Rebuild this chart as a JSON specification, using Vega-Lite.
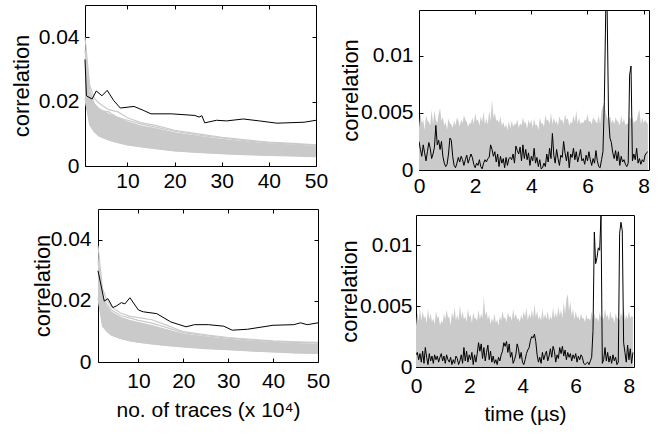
{
"$schema":"https://vega.github.io/schema/vega-lite/v6.json",
"padding":{"left":8,"top":4,"right":5,"bottom":5},
"config":{"view":{"stroke":null},
"axis":{"labelFont":"Liberation Sans","titleFont":"Liberation Sans","labelFontSize":21,"titleFontSize":22,"titleFontWeight":"normal","labelColor":"#000","titleColor":"#000","tickColor":"#000","tickWidth":1,"tickSize":-4,"grid":false,"domain":false,"labelFlush":false,"labelOverlap":false,"labelBound":false}},
"datasets":{
"tlBand":[{"n":1,"lo":0.020,"hi":0.038},{"n":2,"lo":0.0125,"hi":0.023},{"n":3,"lo":0.0104,"hi":0.0196},{"n":4,"lo":0.0091,"hi":0.018},{"n":6,"lo":0.0079,"hi":0.0163},{"n":8,"lo":0.0071,"hi":0.0152},{"n":10,"lo":0.0064,"hi":0.0139},{"n":13,"lo":0.0058,"hi":0.0126},{"n":16,"lo":0.0053,"hi":0.0118},{"n":20,"lo":0.0046,"hi":0.0105},{"n":25,"lo":0.0041,"hi":0.0094},{"n":30,"lo":0.0037,"hi":0.0085},{"n":35,"lo":0.0034,"hi":0.0077},{"n":40,"lo":0.0032,"hi":0.0071},{"n":45,"lo":0.0030,"hi":0.0067},{"n":50,"lo":0.0028,"hi":0.0063}],
"tlLines":[
{"id":"a","n":1,"v":0.040},{"id":"a","n":2,"v":0.025},{"id":"a","n":3,"v":0.021},{"id":"a","n":4,"v":0.0195},{"id":"a","n":6,"v":0.0175},{"id":"a","n":8,"v":0.0168},{"id":"a","n":10,"v":0.0150},{"id":"a","n":13,"v":0.0134},{"id":"a","n":16,"v":0.0126},{"id":"a","n":20,"v":0.0111},{"id":"a","n":25,"v":0.0100},{"id":"a","n":30,"v":0.0089},{"id":"a","n":35,"v":0.0081},{"id":"a","n":40,"v":0.0074},{"id":"a","n":45,"v":0.0070},{"id":"a","n":50,"v":0.0066},
{"id":"b","n":1,"v":0.036},{"id":"b","n":2,"v":0.0235},{"id":"b","n":3,"v":0.0192},{"id":"b","n":4,"v":0.0172},{"id":"b","n":6,"v":0.0168},{"id":"b","n":8,"v":0.0150},{"id":"b","n":10,"v":0.0142},{"id":"b","n":13,"v":0.0130},{"id":"b","n":16,"v":0.0121},{"id":"b","n":20,"v":0.0108},{"id":"b","n":25,"v":0.0096},{"id":"b","n":30,"v":0.0087},{"id":"b","n":35,"v":0.0079},{"id":"b","n":40,"v":0.0072},{"id":"b","n":45,"v":0.0068},{"id":"b","n":50,"v":0.0064},
{"id":"e","n":1,"v":0.021},{"id":"e","n":2,"v":0.0128},{"id":"e","n":3,"v":0.0106},{"id":"e","n":4,"v":0.0093},{"id":"e","n":6,"v":0.0081},{"id":"e","n":8,"v":0.0073},{"id":"e","n":10,"v":0.0066},{"id":"e","n":13,"v":0.0059},{"id":"e","n":16,"v":0.0054},{"id":"e","n":20,"v":0.0047},{"id":"e","n":25,"v":0.0042},{"id":"e","n":30,"v":0.0038},{"id":"e","n":35,"v":0.0035},{"id":"e","n":40,"v":0.0033},{"id":"e","n":45,"v":0.0031},{"id":"e","n":50,"v":0.0029}],
"tlKey":[{"n":1,"v":0.0331},{"n":1.3,"v":0.0218},{"n":2.5,"v":0.0208},{"n":3.4,"v":0.0233},{"n":4.6,"v":0.0218},{"n":5.7,"v":0.0235},{"n":7.1,"v":0.0203},{"n":8.5,"v":0.018},{"n":11.4,"v":0.0185},{"n":13.5,"v":0.0172},{"n":15,"v":0.0162},{"n":19.3,"v":0.0162},{"n":24.3,"v":0.0157},{"n":25.2,"v":0.0152},{"n":25.8,"v":0.0156},{"n":26.4,"v":0.0134},{"n":28.9,"v":0.0142},{"n":31,"v":0.014},{"n":34.6,"v":0.0146},{"n":38,"v":0.014},{"n":41.7,"v":0.0133},{"n":47.5,"v":0.0136},{"n":50,"v":0.0142}],
"blBand":[{"n":1,"lo":0.020,"hi":0.036},{"n":2,"lo":0.0115,"hi":0.022},{"n":3,"lo":0.0098,"hi":0.0185},{"n":4,"lo":0.0086,"hi":0.0165},{"n":6,"lo":0.0075,"hi":0.0148},{"n":8,"lo":0.0068,"hi":0.0138},{"n":10,"lo":0.0063,"hi":0.0131},{"n":13,"lo":0.0058,"hi":0.0121},{"n":16,"lo":0.0053,"hi":0.0109},{"n":20,"lo":0.0048,"hi":0.0093},{"n":25,"lo":0.0043,"hi":0.0084},{"n":30,"lo":0.0039,"hi":0.0076},{"n":35,"lo":0.0035,"hi":0.0070},{"n":40,"lo":0.0032,"hi":0.0066},{"n":45,"lo":0.0029,"hi":0.0062},{"n":50,"lo":0.0027,"hi":0.0060}],
"blLines":[
{"id":"a","n":1,"v":0.038},{"id":"a","n":2,"v":0.024},{"id":"a","n":3,"v":0.020},{"id":"a","n":4,"v":0.018},{"id":"a","n":6,"v":0.0160},{"id":"a","n":8,"v":0.0150},{"id":"a","n":10,"v":0.0145},{"id":"a","n":13,"v":0.0138},{"id":"a","n":16,"v":0.0122},{"id":"a","n":20,"v":0.0099},{"id":"a","n":25,"v":0.0089},{"id":"a","n":30,"v":0.0080},{"id":"a","n":35,"v":0.0074},{"id":"a","n":40,"v":0.0069},{"id":"a","n":45,"v":0.0066},{"id":"a","n":50,"v":0.0064},
{"id":"b","n":1,"v":0.033},{"id":"b","n":2,"v":0.021},{"id":"b","n":3,"v":0.0188},{"id":"b","n":4,"v":0.0170},{"id":"b","n":6,"v":0.0152},{"id":"b","n":8,"v":0.0144},{"id":"b","n":10,"v":0.0136},{"id":"b","n":13,"v":0.0127},{"id":"b","n":16,"v":0.0114},{"id":"b","n":20,"v":0.0096},{"id":"b","n":25,"v":0.0086},{"id":"b","n":30,"v":0.0078},{"id":"b","n":35,"v":0.0072},{"id":"b","n":40,"v":0.0067},{"id":"b","n":45,"v":0.0064},{"id":"b","n":50,"v":0.0062},
{"id":"e","n":1,"v":0.021},{"id":"e","n":2,"v":0.0118},{"id":"e","n":3,"v":0.0100},{"id":"e","n":4,"v":0.0088},{"id":"e","n":6,"v":0.0077},{"id":"e","n":8,"v":0.0070},{"id":"e","n":10,"v":0.0065},{"id":"e","n":13,"v":0.0059},{"id":"e","n":16,"v":0.0054},{"id":"e","n":20,"v":0.0049},{"id":"e","n":25,"v":0.0044},{"id":"e","n":30,"v":0.0040},{"id":"e","n":35,"v":0.0036},{"id":"e","n":40,"v":0.0033},{"id":"e","n":45,"v":0.0030},{"id":"e","n":50,"v":0.0028}],
"blKey":[{"n":1,"v":0.0298},{"n":2.4,"v":0.0199},{"n":3.2,"v":0.0207},{"n":4.3,"v":0.0178},{"n":5.2,"v":0.0184},{"n":6.2,"v":0.0194},{"n":7,"v":0.019},{"n":8.1,"v":0.021},{"n":10,"v":0.017},{"n":11.1,"v":0.0164},{"n":14.1,"v":0.0158},{"n":17.2,"v":0.0131},{"n":20.6,"v":0.0115},{"n":22.5,"v":0.0122},{"n":25.6,"v":0.0122},{"n":29,"v":0.0117},{"n":30.9,"v":0.0104},{"n":34.3,"v":0.0107},{"n":40,"v":0.012},{"n":44.6,"v":0.0122},{"n":46.1,"v":0.0128},{"n":47.6,"v":0.0122},{"n":50,"v":0.0128}],
"tr":[
{"t":0,"g":0.0037,"k":0.0025},{"t":0.05,"g":0.0050,"k":0.0018},{"t":0.1,"g":0.0041,"k":0.0012},{"t":0.15,"g":0.0044,"k":0.0022},{"t":0.2,"g":0.0035,"k":0.0015},{"t":0.25,"g":0.0048,"k":0.0008},{"t":0.3,"g":0.0043,"k":0.0016},{"t":0.35,"g":0.0042,"k":0.0024},{"t":0.4,"g":0.0039,"k":0.0019},{"t":0.45,"g":0.0053,"k":0.0010},
{"t":0.5,"g":0.0040,"k":0.0014},{"t":0.55,"g":0.0052,"k":0.0020},{"t":0.6,"g":0.0044,"k":0.0039},{"t":0.65,"g":0.0041,"k":0.0022},{"t":0.7,"g":0.0049,"k":0.0026},{"t":0.75,"g":0.0054,"k":0.0018},{"t":0.8,"g":0.0043,"k":0.0025},{"t":0.85,"g":0.0046,"k":0.0012},{"t":0.9,"g":0.0039,"k":0.0006},{"t":0.95,"g":0.0042,"k":0.0003},
{"t":1.0,"g":0.0035,"k":0.0005},{"t":1.05,"g":0.0045,"k":0.0014},{"t":1.1,"g":0.0041,"k":0.0028},{"t":1.15,"g":0.0040,"k":0.0026},{"t":1.2,"g":0.0037,"k":0.0012},{"t":1.25,"g":0.0043,"k":0.0004},{"t":1.3,"g":0.0039,"k":0.0002},{"t":1.35,"g":0.0046,"k":0.0006},{"t":1.4,"g":0.0043,"k":0.0011},{"t":1.45,"g":0.0038,"k":0.0007},
{"t":1.5,"g":0.0044,"k":0.0012},{"t":1.55,"g":0.0041,"k":0.0009},{"t":1.6,"g":0.0048,"k":0.0004},{"t":1.65,"g":0.0044,"k":0.0009},{"t":1.7,"g":0.0042,"k":0.0013},{"t":1.75,"g":0.0038,"k":0.0006},{"t":1.8,"g":0.0041,"k":0.0010},{"t":1.85,"g":0.0041,"k":0.0014},{"t":1.9,"g":0.0046,"k":0.0011},{"t":1.95,"g":0.0040,"k":0.0005},
{"t":2.0,"g":0.0050,"k":0.0002},{"t":2.05,"g":0.0043,"k":0.0006},{"t":2.1,"g":0.0044,"k":0.0004},{"t":2.15,"g":0.0039,"k":0.0009},{"t":2.2,"g":0.0047,"k":0.0003},{"t":2.25,"g":0.0042,"k":0.0001},{"t":2.3,"g":0.0051,"k":0.0006},{"t":2.35,"g":0.0040,"k":0.0009},{"t":2.4,"g":0.0045,"k":0.0007},{"t":2.45,"g":0.0040,"k":0.0010},
{"t":2.5,"g":0.0052,"k":0.0011},{"t":2.55,"g":0.0043,"k":0.0022},{"t":2.6,"g":0.0062,"k":0.0018},{"t":2.65,"g":0.0046,"k":0.0012},{"t":2.7,"g":0.0050,"k":0.0016},{"t":2.75,"g":0.0043,"k":0.0007},{"t":2.8,"g":0.0044,"k":0.0014},{"t":2.85,"g":0.0041,"k":0.0003},{"t":2.9,"g":0.0047,"k":0.0012},{"t":2.95,"g":0.0039,"k":0.0006},
{"t":3.0,"g":0.0042,"k":0.0010},{"t":3.05,"g":0.0037,"k":0.0002},{"t":3.1,"g":0.0040,"k":0.0011},{"t":3.15,"g":0.0035,"k":0.0004},{"t":3.2,"g":0.0043,"k":0.0010},{"t":3.25,"g":0.0036,"k":0.0011},{"t":3.3,"g":0.0043,"k":0.0009},{"t":3.35,"g":0.0038,"k":0.0014},{"t":3.4,"g":0.0040,"k":0.0006},{"t":3.45,"g":0.0040,"k":0.0021},
{"t":3.5,"g":0.0044,"k":0.0017},{"t":3.55,"g":0.0037,"k":0.0014},{"t":3.6,"g":0.0041,"k":0.0020},{"t":3.65,"g":0.0039,"k":0.0008},{"t":3.7,"g":0.0046,"k":0.0022},{"t":3.75,"g":0.0041,"k":0.0010},{"t":3.8,"g":0.0042,"k":0.0018},{"t":3.85,"g":0.0036,"k":0.0009},{"t":3.9,"g":0.0044,"k":0.0015},{"t":3.95,"g":0.0040,"k":0.0004},
{"t":4.0,"g":0.0044,"k":0.0012},{"t":4.05,"g":0.0037,"k":0.0008},{"t":4.1,"g":0.0045,"k":0.0019},{"t":4.15,"g":0.0039,"k":0.0006},{"t":4.2,"g":0.0040,"k":0.0011},{"t":4.25,"g":0.0035,"k":0.0003},{"t":4.3,"g":0.0046,"k":0.0009},{"t":4.35,"g":0.0041,"k":0.0001},{"t":4.4,"g":0.0041,"k":0.0002},{"t":4.45,"g":0.0038,"k":0.0006},
{"t":4.5,"g":0.0048,"k":0.0003},{"t":4.55,"g":0.0043,"k":0.0014},{"t":4.6,"g":0.0044,"k":0.0007},{"t":4.65,"g":0.0040,"k":0.0019},{"t":4.7,"g":0.0050,"k":0.0010},{"t":4.75,"g":0.0040,"k":0.0032},{"t":4.8,"g":0.0046,"k":0.0013},{"t":4.85,"g":0.0041,"k":0.0006},{"t":4.9,"g":0.0043,"k":0.0018},{"t":4.95,"g":0.0039,"k":0.0010},
{"t":5.0,"g":0.0047,"k":0.0004},{"t":5.05,"g":0.0043,"k":0.0013},{"t":5.1,"g":0.0044,"k":0.0011},{"t":5.15,"g":0.0040,"k":0.0025},{"t":5.2,"g":0.0049,"k":0.0015},{"t":5.25,"g":0.0044,"k":0.0008},{"t":5.3,"g":0.0045,"k":0.0016},{"t":5.35,"g":0.0039,"k":0.0002},{"t":5.4,"g":0.0042,"k":0.0014},{"t":5.45,"g":0.0041,"k":0.0011},
{"t":5.5,"g":0.0048,"k":0.0019},{"t":5.55,"g":0.0042,"k":0.0009},{"t":5.6,"g":0.0052,"k":0.0016},{"t":5.65,"g":0.0040,"k":0.0007},{"t":5.7,"g":0.0046,"k":0.0012},{"t":5.75,"g":0.0040,"k":0.0018},{"t":5.8,"g":0.0042,"k":0.0008},{"t":5.85,"g":0.0041,"k":0.0010},{"t":5.9,"g":0.0044,"k":0.0005},{"t":5.95,"g":0.0043,"k":0.0013},
{"t":6.0,"g":0.0049,"k":0.0008},{"t":6.05,"g":0.0042,"k":0.0016},{"t":6.1,"g":0.0043,"k":0.0009},{"t":6.15,"g":0.0040,"k":0.0004},{"t":6.2,"g":0.0046,"k":0.0010},{"t":6.25,"g":0.0044,"k":0.0006},{"t":6.3,"g":0.0042,"k":0.0017},{"t":6.35,"g":0.0041,"k":0.0008},{"t":6.4,"g":0.0048,"k":0.0003},{"t":6.45,"g":0.0040,"k":0.0002},
{"t":6.5,"g":0.0052,"k":0.0009},{"t":6.55,"g":0.0056,"k":0.0016},{"t":6.6,"g":0.0058,"k":0.0060},{"t":6.65,"g":0.0050,"k":0.0140},{"t":6.7,"g":0.0046,"k":0.0140},{"t":6.75,"g":0.0042,"k":0.0047},{"t":6.8,"g":0.0048,"k":0.0028},{"t":6.85,"g":0.0041,"k":0.0024},{"t":6.9,"g":0.0044,"k":0.0015},{"t":6.95,"g":0.0040,"k":0.0010},
{"t":7.0,"g":0.0046,"k":0.0017},{"t":7.05,"g":0.0043,"k":0.0008},{"t":7.1,"g":0.0042,"k":0.0016},{"t":7.15,"g":0.0039,"k":0.0004},{"t":7.2,"g":0.0048,"k":0.0012},{"t":7.25,"g":0.0041,"k":0.0007},{"t":7.3,"g":0.0045,"k":0.0009},{"t":7.35,"g":0.0039,"k":0.0005},{"t":7.4,"g":0.0041,"k":0.0003},{"t":7.45,"g":0.0040,"k":0.0006},
{"t":7.5,"g":0.0047,"k":0.0083},{"t":7.55,"g":0.0044,"k":0.0091},{"t":7.6,"g":0.0046,"k":0.0008},{"t":7.65,"g":0.0041,"k":0.0014},{"t":7.7,"g":0.0043,"k":0.0009},{"t":7.75,"g":0.0043,"k":0.0019},{"t":7.8,"g":0.0049,"k":0.0006},{"t":7.85,"g":0.0053,"k":0.0010},{"t":7.9,"g":0.0040,"k":0.0005},{"t":7.95,"g":0.0046,"k":0.0009},
{"t":8.0,"g":0.0041,"k":0.0007},{"t":8.05,"g":0.0044,"k":0.0013},{"t":8.1,"g":0.0042,"k":0.0015},{"t":8.15,"g":0.0040,"k":0.0016}],
"br":[
{"t":0,"g":0.0034,"k":0.0010},{"t":0.05,"g":0.0045,"k":0.0012},{"t":0.1,"g":0.0038,"k":0.0006},{"t":0.15,"g":0.0049,"k":0.0011},{"t":0.2,"g":0.0038,"k":0.0004},{"t":0.25,"g":0.0046,"k":0.0013},{"t":0.3,"g":0.0040,"k":0.0003},{"t":0.35,"g":0.0042,"k":0.0016},{"t":0.4,"g":0.0036,"k":0.0008},{"t":0.45,"g":0.0048,"k":0.0002},
{"t":0.5,"g":0.0039,"k":0.0011},{"t":0.55,"g":0.0044,"k":0.0005},{"t":0.6,"g":0.0037,"k":0.0009},{"t":0.65,"g":0.0040,"k":0.0003},{"t":0.7,"g":0.0035,"k":0.0010},{"t":0.75,"g":0.0046,"k":0.0006},{"t":0.8,"g":0.0040,"k":0.0009},{"t":0.85,"g":0.0042,"k":0.0004},{"t":0.9,"g":0.0034,"k":0.0008},{"t":0.95,"g":0.0038,"k":0.0011},
{"t":1.0,"g":0.0036,"k":0.0005},{"t":1.05,"g":0.0044,"k":0.0009},{"t":1.1,"g":0.0039,"k":0.0003},{"t":1.15,"g":0.0047,"k":0.0010},{"t":1.2,"g":0.0041,"k":0.0006},{"t":1.25,"g":0.0041,"k":0.0004},{"t":1.3,"g":0.0034,"k":0.0008},{"t":1.35,"g":0.0045,"k":0.0002},{"t":1.4,"g":0.0040,"k":0.0006},{"t":1.45,"g":0.0049,"k":0.0003},
{"t":1.5,"g":0.0038,"k":0.0009},{"t":1.55,"g":0.0043,"k":0.0007},{"t":1.6,"g":0.0038,"k":0.0002},{"t":1.65,"g":0.0051,"k":0.0005},{"t":1.7,"g":0.0040,"k":0.0010},{"t":1.75,"g":0.0046,"k":0.0003},{"t":1.8,"g":0.0039,"k":0.0016},{"t":1.85,"g":0.0042,"k":0.0005},{"t":1.9,"g":0.0037,"k":0.0013},{"t":1.95,"g":0.0048,"k":0.0004},
{"t":2.0,"g":0.0041,"k":0.0010},{"t":2.05,"g":0.0043,"k":0.0006},{"t":2.1,"g":0.0036,"k":0.0012},{"t":2.15,"g":0.0045,"k":0.0002},{"t":2.2,"g":0.0040,"k":0.0010},{"t":2.25,"g":0.0040,"k":0.0004},{"t":2.3,"g":0.0038,"k":0.0011},{"t":2.35,"g":0.0047,"k":0.0020},{"t":2.4,"g":0.0039,"k":0.0013},{"t":2.45,"g":0.0044,"k":0.0019},
{"t":2.5,"g":0.0040,"k":0.0007},{"t":2.55,"g":0.0058,"k":0.0016},{"t":2.6,"g":0.0042,"k":0.0005},{"t":2.65,"g":0.0046,"k":0.0012},{"t":2.7,"g":0.0039,"k":0.0018},{"t":2.75,"g":0.0043,"k":0.0006},{"t":2.8,"g":0.0035,"k":0.0013},{"t":2.85,"g":0.0040,"k":0.0004},{"t":2.9,"g":0.0037,"k":0.0009},{"t":2.95,"g":0.0044,"k":0.0003},
{"t":3.0,"g":0.0036,"k":0.0006},{"t":3.05,"g":0.0039,"k":0.0002},{"t":3.1,"g":0.0034,"k":0.0008},{"t":3.15,"g":0.0042,"k":0.0005},{"t":3.2,"g":0.0038,"k":0.0010},{"t":3.25,"g":0.0046,"k":0.0013},{"t":3.3,"g":0.0040,"k":0.0020},{"t":3.35,"g":0.0041,"k":0.0017},{"t":3.4,"g":0.0037,"k":0.0021},{"t":3.45,"g":0.0045,"k":0.0012},
{"t":3.5,"g":0.0041,"k":0.0019},{"t":3.55,"g":0.0042,"k":0.0008},{"t":3.6,"g":0.0038,"k":0.0012},{"t":3.65,"g":0.0048,"k":0.0003},{"t":3.7,"g":0.0040,"k":0.0006},{"t":3.75,"g":0.0044,"k":0.0010},{"t":3.8,"g":0.0039,"k":0.0019},{"t":3.85,"g":0.0040,"k":0.0015},{"t":3.9,"g":0.0037,"k":0.0007},{"t":3.95,"g":0.0043,"k":0.0012},
{"t":4.0,"g":0.0039,"k":0.0004},{"t":4.05,"g":0.0046,"k":0.0002},{"t":4.1,"g":0.0041,"k":0.0006},{"t":4.15,"g":0.0049,"k":0.0011},{"t":4.2,"g":0.0038,"k":0.0014},{"t":4.25,"g":0.0044,"k":0.0016},{"t":4.3,"g":0.0040,"k":0.0022},{"t":4.35,"g":0.0047,"k":0.0025},{"t":4.4,"g":0.0040,"k":0.0024},{"t":4.45,"g":0.0052,"k":0.0027},
{"t":4.5,"g":0.0041,"k":0.0021},{"t":4.55,"g":0.0046,"k":0.0010},{"t":4.6,"g":0.0039,"k":0.0004},{"t":4.65,"g":0.0042,"k":0.0008},{"t":4.7,"g":0.0038,"k":0.0003},{"t":4.75,"g":0.0048,"k":0.0012},{"t":4.8,"g":0.0039,"k":0.0006},{"t":4.85,"g":0.0044,"k":0.0010},{"t":4.9,"g":0.0039,"k":0.0013},{"t":4.95,"g":0.0046,"k":0.0005},
{"t":5.0,"g":0.0038,"k":0.0009},{"t":5.05,"g":0.0042,"k":0.0015},{"t":5.1,"g":0.0039,"k":0.0008},{"t":5.15,"g":0.0049,"k":0.0017},{"t":5.2,"g":0.0040,"k":0.0013},{"t":5.25,"g":0.0045,"k":0.0004},{"t":5.3,"g":0.0040,"k":0.0010},{"t":5.35,"g":0.0050,"k":0.0007},{"t":5.4,"g":0.0042,"k":0.0016},{"t":5.45,"g":0.0047,"k":0.0011},
{"t":5.5,"g":0.0040,"k":0.0017},{"t":5.55,"g":0.0053,"k":0.0009},{"t":5.6,"g":0.0044,"k":0.0014},{"t":5.65,"g":0.0056,"k":0.0006},{"t":5.7,"g":0.0060,"k":0.0012},{"t":5.75,"g":0.0046,"k":0.0008},{"t":5.8,"g":0.0054,"k":0.0011},{"t":5.85,"g":0.0042,"k":0.0005},{"t":5.9,"g":0.0048,"k":0.0010},{"t":5.95,"g":0.0039,"k":0.0007},
{"t":6.0,"g":0.0046,"k":0.0011},{"t":6.05,"g":0.0040,"k":0.0004},{"t":6.1,"g":0.0042,"k":0.0009},{"t":6.15,"g":0.0038,"k":0.0006},{"t":6.2,"g":0.0044,"k":0.0010},{"t":6.25,"g":0.0040,"k":0.0008},{"t":6.3,"g":0.0040,"k":0.0003},{"t":6.35,"g":0.0037,"k":0.0002},{"t":6.4,"g":0.0043,"k":0.0003},{"t":6.45,"g":0.0039,"k":0.0004},
{"t":6.5,"g":0.0040,"k":0.0002},{"t":6.55,"g":0.0038,"k":0.0005},{"t":6.6,"g":0.0046,"k":0.0008},{"t":6.65,"g":0.0038,"k":0.0030},{"t":6.7,"g":0.0044,"k":0.0111},{"t":6.75,"g":0.0039,"k":0.0085},{"t":6.8,"g":0.0041,"k":0.0090},{"t":6.85,"g":0.0037,"k":0.0098},{"t":6.9,"g":0.0045,"k":0.0096},{"t":6.95,"g":0.0040,"k":0.0125},
{"t":7.0,"g":0.0042,"k":0.0003},{"t":7.05,"g":0.0039,"k":0.0006},{"t":7.1,"g":0.0048,"k":0.0016},{"t":7.15,"g":0.0041,"k":0.0005},{"t":7.2,"g":0.0043,"k":0.0012},{"t":7.25,"g":0.0038,"k":0.0004},{"t":7.3,"g":0.0046,"k":0.0009},{"t":7.35,"g":0.0040,"k":0.0003},{"t":7.4,"g":0.0041,"k":0.0010},{"t":7.45,"g":0.0036,"k":0.0005},
{"t":7.5,"g":0.0044,"k":0.0008},{"t":7.55,"g":0.0040,"k":0.0002},{"t":7.6,"g":0.0040,"k":0.0004},{"t":7.65,"g":0.0038,"k":0.0110},{"t":7.7,"g":0.0045,"k":0.0119},{"t":7.75,"g":0.0041,"k":0.0112},{"t":7.8,"g":0.0049,"k":0.0020},{"t":7.85,"g":0.0038,"k":0.0012},{"t":7.9,"g":0.0043,"k":0.0004},{"t":7.95,"g":0.0039,"k":0.0018},
{"t":8.0,"g":0.0046,"k":0.0006},{"t":8.05,"g":0.0040,"k":0.0015},{"t":8.1,"g":0.0042,"k":0.0003},{"t":8.15,"g":0.0041,"k":0.0012}]
},
"spacing":11,
"vconcat":[
{"spacing":9,"hconcat":[
 {"spacing":0,"hconcat":[
  {"width":1,"height":1,"data":{"values":[]},"mark":"point"},
  {"width":231,"height":161,"view":{"stroke":"#000"},
   "layer":[
    {"data":{"name":"tlBand"},"mark":{"type":"area","color":"#cacaca","opacity":1},
     "encoding":{"x":{"field":"n","type":"quantitative","scale":{"domain":[1,50],"nice":false,"zero":false},"axis":{"orient":"bottom","values":[10,20,30,40,50],"title":null,"labelPadding":8}},
      "y":{"field":"lo","type":"quantitative","scale":{"domain":[0,0.05],"nice":false},"axis":{"orient":"left","values":[0,0.02,0.04],"format":"~g","title":"correlation","labelPadding":10,"titlePadding":5}},
      "y2":{"field":"hi"}}},
    {"data":{"name":"tlLines"},"mark":{"type":"line","color":"#cacaca","strokeWidth":1.2},
     "encoding":{"x":{"field":"n","type":"quantitative","axis":null},"y":{"field":"v","type":"quantitative","axis":null},"detail":{"field":"id","type":"nominal"}}},
    {"data":{"name":"tlKey"},"mark":{"type":"line","color":"#000","strokeWidth":1},
     "encoding":{"x":{"field":"n","type":"quantitative","axis":{"orient":"top","values":[10,20,30,40],"labels":false,"title":null}},"y":{"field":"v","type":"quantitative","axis":{"orient":"right","values":[0.02,0.04],"labels":false,"title":null}}}}
   ],
   "resolve":{"axis":{"x":"independent","y":"independent"}}}
 ]},
 {"spacing":0,"vconcat":[
  {"width":1,"height":3.5,"data":{"values":[]},"mark":"point"},
  {"width":230,"height":160,"view":{"stroke":"#000"},
   "layer":[
    {"data":{"name":"tr"},"mark":{"type":"area","color":"#cacaca","opacity":1},
     "encoding":{"x":{"field":"t","type":"quantitative","scale":{"domain":[0,8.19],"nice":false,"zero":false},"axis":{"orient":"bottom","values":[0,2,4,6,8],"title":null,"labelPadding":9}},
      "y":{"field":"g","type":"quantitative","scale":{"domain":[0,0.014],"nice":false},"axis":{"orient":"left","values":[0,0.005,0.01],"format":"~g","title":"correlation","labelPadding":10,"titlePadding":-2}}}},
    {"data":{"name":"tr"},"mark":{"type":"line","color":"#000","strokeWidth":1,"clip":true},
     "encoding":{"x":{"field":"t","type":"quantitative","axis":{"orient":"top","values":[2,4,6,8],"labels":false,"title":null}},"y":{"field":"k","type":"quantitative","axis":{"orient":"right","values":[0.005,0.01],"labels":false,"title":null}}}}
   ],
   "resolve":{"axis":{"x":"independent","y":"independent"}}}
 ]}
]},
{"spacing":6,"hconcat":[
 {"spacing":0,"hconcat":[
  {"width":22,"height":1,"data":{"values":[]},"mark":"point"},
  {"width":220,"height":153,"view":{"stroke":"#000"},
   "layer":[
    {"data":{"name":"blBand"},"mark":{"type":"area","color":"#cacaca","opacity":1},
     "encoding":{"x":{"field":"n","type":"quantitative","scale":{"domain":[1,50],"nice":false,"zero":false},"axis":{"orient":"bottom","values":[10,20,30,40,50],"title":"no. of traces (x 10⁴)","titleFontSize":21,"titlePadding":8,"labelPadding":12}},
      "y":{"field":"lo","type":"quantitative","scale":{"domain":[0,0.05],"nice":false},"axis":{"orient":"left","values":[0,0.02,0.04],"format":"~g","title":"correlation","labelPadding":11,"titlePadding":-4}},
      "y2":{"field":"hi"}}},
    {"data":{"name":"blLines"},"mark":{"type":"line","color":"#cacaca","strokeWidth":1.2},
     "encoding":{"x":{"field":"n","type":"quantitative","axis":null},"y":{"field":"v","type":"quantitative","axis":null},"detail":{"field":"id","type":"nominal"}}},
    {"data":{"name":"blKey"},"mark":{"type":"line","color":"#000","strokeWidth":1},
     "encoding":{"x":{"field":"n","type":"quantitative","axis":{"orient":"top","values":[10,20,30,40],"labels":false,"title":null}},"y":{"field":"v","type":"quantitative","axis":{"orient":"right","values":[0.02,0.04],"labels":false,"title":null}}}}
   ],
   "resolve":{"axis":{"x":"independent","y":"independent"}}}
 ]},
 {"spacing":0,"vconcat":[
  {"width":1,"height":4.5,"data":{"values":[]},"mark":"point"},
  {"width":218,"height":152,"view":{"stroke":"#000"},
   "layer":[
    {"data":{"name":"br"},"mark":{"type":"area","color":"#cacaca","opacity":1},
     "encoding":{"x":{"field":"t","type":"quantitative","scale":{"domain":[0,8.19],"nice":false,"zero":false},"axis":{"orient":"bottom","values":[0,2,4,6,8],"title":"time (µs)","titleFontSize":21,"titleFontWeight":"normal","titlePadding":7,"labelPadding":12}},
      "y":{"field":"g","type":"quantitative","scale":{"domain":[0,0.0125],"nice":false},"axis":{"orient":"left","values":[0,0.005,0.01],"format":"~g","title":"correlation","labelPadding":8,"titlePadding":-2}}}},
    {"data":{"name":"br"},"mark":{"type":"line","color":"#000","strokeWidth":1,"clip":true},
     "encoding":{"x":{"field":"t","type":"quantitative","axis":null},"y":{"field":"k","type":"quantitative","axis":{"orient":"right","values":[0.005,0.01],"labels":false,"title":null}}}}
   ],
   "resolve":{"axis":{"x":"independent","y":"independent"}}}
 ]}
]}
]
}
